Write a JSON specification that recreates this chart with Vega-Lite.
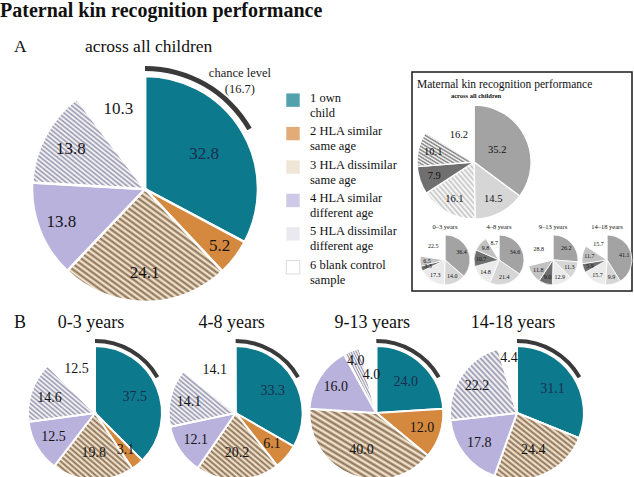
{
  "$schema": "https://vega.github.io/schema/vega-lite/v6.json",
  "padding": {"top": 1, "left": 0, "right": 0, "bottom": 0},
  "background": "#ffffff",
  "config": {"view": {"stroke": null}, "font": "Liberation Serif", "text": {"font": "Liberation Serif"}},
  "datasets": {
    "pat": [
      {"g": "all", "k": 1, "v": 32.8}, {"g": "all", "k": 2, "v": 5.2}, {"g": "all", "k": 3, "v": 24.1}, {"g": "all", "k": 4, "v": 13.8}, {"g": "all", "k": 5, "v": 13.8}, {"g": "all", "k": 6, "v": 10.3},
      {"g": "0-3 years", "k": 1, "v": 37.5}, {"g": "0-3 years", "k": 2, "v": 3.1}, {"g": "0-3 years", "k": 3, "v": 19.8}, {"g": "0-3 years", "k": 4, "v": 12.5}, {"g": "0-3 years", "k": 5, "v": 14.6}, {"g": "0-3 years", "k": 6, "v": 12.5},
      {"g": "4-8 years", "k": 1, "v": 33.3}, {"g": "4-8 years", "k": 2, "v": 6.1}, {"g": "4-8 years", "k": 3, "v": 20.2}, {"g": "4-8 years", "k": 4, "v": 12.1}, {"g": "4-8 years", "k": 5, "v": 14.1}, {"g": "4-8 years", "k": 6, "v": 14.1},
      {"g": "9-13 years", "k": 1, "v": 24.0}, {"g": "9-13 years", "k": 2, "v": 12.0}, {"g": "9-13 years", "k": 3, "v": 40.0}, {"g": "9-13 years", "k": 4, "v": 16.0}, {"g": "9-13 years", "k": 5, "v": 4.0}, {"g": "9-13 years", "k": 6, "v": 4.0},
      {"g": "14-18 years", "k": 1, "v": 31.1}, {"g": "14-18 years", "k": 2, "v": 0}, {"g": "14-18 years", "k": 3, "v": 24.4}, {"g": "14-18 years", "k": 4, "v": 17.8}, {"g": "14-18 years", "k": 5, "v": 22.2}, {"g": "14-18 years", "k": 6, "v": 4.4}
    ],
    "mat": [
      {"g": "all", "k": 1, "v": 35.2}, {"g": "all", "k": 2, "v": 14.5}, {"g": "all", "k": 3, "v": 16.1}, {"g": "all", "k": 4, "v": 7.9}, {"g": "all", "k": 5, "v": 10.1}, {"g": "all", "k": 6, "v": 16.2},
      {"g": "0–3 years", "k": 1, "v": 36.4}, {"g": "0–3 years", "k": 2, "v": 14.0}, {"g": "0–3 years", "k": 3, "v": 17.3}, {"g": "0–3 years", "k": 4, "v": 3.3}, {"g": "0–3 years", "k": 5, "v": 6.5}, {"g": "0–3 years", "k": 6, "v": 22.5},
      {"g": "4–8 years", "k": 1, "v": 34.6}, {"g": "4–8 years", "k": 2, "v": 21.4}, {"g": "4–8 years", "k": 3, "v": 14.8}, {"g": "4–8 years", "k": 4, "v": 10.7}, {"g": "4–8 years", "k": 5, "v": 9.8}, {"g": "4–8 years", "k": 6, "v": 8.7},
      {"g": "9–13 years", "k": 1, "v": 26.2}, {"g": "9–13 years", "k": 2, "v": 11.3}, {"g": "9–13 years", "k": 3, "v": 12.9}, {"g": "9–13 years", "k": 4, "v": 9.0}, {"g": "9–13 years", "k": 5, "v": 11.8}, {"g": "9–13 years", "k": 6, "v": 28.8},
      {"g": "14–18 years", "k": 1, "v": 41.1}, {"g": "14–18 years", "k": 2, "v": 9.9}, {"g": "14–18 years", "k": 3, "v": 15.7}, {"g": "14–18 years", "k": 4, "v": 5.9}, {"g": "14–18 years", "k": 5, "v": 11.7}, {"g": "14–18 years", "k": 6, "v": 15.7}
    ],
    "leg": [
      {"k": 1, "label": "1 own\n\u00a0\u00a0child"},
      {"k": 2, "label": "2 HLA similar\n\u00a0\u00a0\u00a0same age"},
      {"k": 3, "label": "3 HLA dissimilar\n\u00a0\u00a0\u00a0same age"},
      {"k": 4, "label": "4 HLA similar\n\u00a0\u00a0different age"},
      {"k": 5, "label": "5 HLA dissimilar\n\u00a0\u00a0different age"},
      {"k": 6, "label": "6 blank control\n\u00a0\u00a0\u00a0sample"}
    ]
  },
  "spacing": 6,
  "vconcat": [
    {
      "spacing": 0,
      "bounds": "flush",
      "hconcat": [
        {
          "width": 290,
          "height": 234,
          "data": {"name": "pat"},
          "transform": [
            {"filter": "datum.g === 'all'"},
            {"stack": "v", "groupby": ["g"], "sort": [{"field": "k", "order": "ascending"}], "as": ["t0", "t1"]},
            {"calculate": "(datum.t0 + datum.t1) / 2", "as": "tm"}
          ],
          "layer": [
            {
              "mark": {"type": "arc", "outerRadius": 113, "stroke": "#ffffff", "strokeWidth": 2.5},
              "encoding": {
                "theta": {"field": "t0", "type": "quantitative", "stack": null, "scale": {"domain": [0, 100]}},
                "theta2": {"field": "t1"},
                "fill": {
                  "condition": [
                    {"test": "datum.k === 1", "value": "#0c798c"},
                    {"test": "datum.k === 2", "value": "#d4893f"},
                    {"test": "datum.k === 3", "value": {"gradient": "linear", "x1": 0, "y1": 1, "x2": 1, "y2": 0, "stops": [{"offset":0,"color":"#fcf0dc"},{"offset":0.0125,"color":"#8a6e52"},{"offset":0.025,"color":"#fcf0dc"},{"offset":0.0375,"color":"#8a6e52"},{"offset":0.05,"color":"#fcf0dc"},{"offset":0.0625,"color":"#8a6e52"},{"offset":0.075,"color":"#fcf0dc"},{"offset":0.0875,"color":"#8a6e52"},{"offset":0.1,"color":"#fcf0dc"},{"offset":0.1125,"color":"#8a6e52"},{"offset":0.125,"color":"#fcf0dc"},{"offset":0.1375,"color":"#8a6e52"},{"offset":0.15,"color":"#fcf0dc"},{"offset":0.1625,"color":"#8a6e52"},{"offset":0.175,"color":"#fcf0dc"},{"offset":0.1875,"color":"#8a6e52"},{"offset":0.2,"color":"#fcf0dc"},{"offset":0.2125,"color":"#8a6e52"},{"offset":0.225,"color":"#fcf0dc"},{"offset":0.2375,"color":"#8a6e52"},{"offset":0.25,"color":"#fcf0dc"},{"offset":0.2625,"color":"#8a6e52"},{"offset":0.275,"color":"#fcf0dc"},{"offset":0.2875,"color":"#8a6e52"},{"offset":0.3,"color":"#fcf0dc"},{"offset":0.3125,"color":"#8a6e52"},{"offset":0.325,"color":"#fcf0dc"},{"offset":0.3375,"color":"#8a6e52"},{"offset":0.35,"color":"#fcf0dc"},{"offset":0.3625,"color":"#8a6e52"},{"offset":0.375,"color":"#fcf0dc"},{"offset":0.3875,"color":"#8a6e52"},{"offset":0.4,"color":"#fcf0dc"},{"offset":0.4125,"color":"#8a6e52"},{"offset":0.425,"color":"#fcf0dc"},{"offset":0.4375,"color":"#8a6e52"},{"offset":0.45,"color":"#fcf0dc"},{"offset":0.4625,"color":"#8a6e52"},{"offset":0.475,"color":"#fcf0dc"},{"offset":0.4875,"color":"#8a6e52"},{"offset":0.5,"color":"#fcf0dc"},{"offset":0.5125,"color":"#8a6e52"},{"offset":0.525,"color":"#fcf0dc"},{"offset":0.5375,"color":"#8a6e52"},{"offset":0.55,"color":"#fcf0dc"},{"offset":0.5625,"color":"#8a6e52"},{"offset":0.575,"color":"#fcf0dc"},{"offset":0.5875,"color":"#8a6e52"},{"offset":0.6,"color":"#fcf0dc"},{"offset":0.6125,"color":"#8a6e52"},{"offset":0.625,"color":"#fcf0dc"},{"offset":0.6375,"color":"#8a6e52"},{"offset":0.65,"color":"#fcf0dc"},{"offset":0.6625,"color":"#8a6e52"},{"offset":0.675,"color":"#fcf0dc"},{"offset":0.6875,"color":"#8a6e52"},{"offset":0.7,"color":"#fcf0dc"},{"offset":0.7125,"color":"#8a6e52"},{"offset":0.725,"color":"#fcf0dc"},{"offset":0.7375,"color":"#8a6e52"},{"offset":0.75,"color":"#fcf0dc"},{"offset":0.7625,"color":"#8a6e52"},{"offset":0.775,"color":"#fcf0dc"},{"offset":0.7875,"color":"#8a6e52"},{"offset":0.8,"color":"#fcf0dc"},{"offset":0.8125,"color":"#8a6e52"},{"offset":0.825,"color":"#fcf0dc"},{"offset":0.8375,"color":"#8a6e52"},{"offset":0.85,"color":"#fcf0dc"},{"offset":0.8625,"color":"#8a6e52"},{"offset":0.875,"color":"#fcf0dc"},{"offset":0.8875,"color":"#8a6e52"},{"offset":0.9,"color":"#fcf0dc"},{"offset":0.9125,"color":"#8a6e52"},{"offset":0.925,"color":"#fcf0dc"},{"offset":0.9375,"color":"#8a6e52"},{"offset":0.95,"color":"#fcf0dc"},{"offset":0.9625,"color":"#8a6e52"},{"offset":0.975,"color":"#fcf0dc"},{"offset":0.9875,"color":"#8a6e52"},{"offset":1,"color":"#fcf0dc"}]}},
                    {"test": "datum.k === 4", "value": "#b9b2dc"},
                    {"test": "datum.k === 5", "value": {"gradient": "linear", "x1": 0, "y1": 1, "x2": 1, "y2": 0, "stops": [{"offset":0,"color":"#ffffff"},{"offset":0.0125,"color":"#9896ae"},{"offset":0.025,"color":"#ffffff"},{"offset":0.0375,"color":"#9896ae"},{"offset":0.05,"color":"#ffffff"},{"offset":0.0625,"color":"#9896ae"},{"offset":0.075,"color":"#ffffff"},{"offset":0.0875,"color":"#9896ae"},{"offset":0.1,"color":"#ffffff"},{"offset":0.1125,"color":"#9896ae"},{"offset":0.125,"color":"#ffffff"},{"offset":0.1375,"color":"#9896ae"},{"offset":0.15,"color":"#ffffff"},{"offset":0.1625,"color":"#9896ae"},{"offset":0.175,"color":"#ffffff"},{"offset":0.1875,"color":"#9896ae"},{"offset":0.2,"color":"#ffffff"},{"offset":0.2125,"color":"#9896ae"},{"offset":0.225,"color":"#ffffff"},{"offset":0.2375,"color":"#9896ae"},{"offset":0.25,"color":"#ffffff"},{"offset":0.2625,"color":"#9896ae"},{"offset":0.275,"color":"#ffffff"},{"offset":0.2875,"color":"#9896ae"},{"offset":0.3,"color":"#ffffff"},{"offset":0.3125,"color":"#9896ae"},{"offset":0.325,"color":"#ffffff"},{"offset":0.3375,"color":"#9896ae"},{"offset":0.35,"color":"#ffffff"},{"offset":0.3625,"color":"#9896ae"},{"offset":0.375,"color":"#ffffff"},{"offset":0.3875,"color":"#9896ae"},{"offset":0.4,"color":"#ffffff"},{"offset":0.4125,"color":"#9896ae"},{"offset":0.425,"color":"#ffffff"},{"offset":0.4375,"color":"#9896ae"},{"offset":0.45,"color":"#ffffff"},{"offset":0.4625,"color":"#9896ae"},{"offset":0.475,"color":"#ffffff"},{"offset":0.4875,"color":"#9896ae"},{"offset":0.5,"color":"#ffffff"},{"offset":0.5125,"color":"#9896ae"},{"offset":0.525,"color":"#ffffff"},{"offset":0.5375,"color":"#9896ae"},{"offset":0.55,"color":"#ffffff"},{"offset":0.5625,"color":"#9896ae"},{"offset":0.575,"color":"#ffffff"},{"offset":0.5875,"color":"#9896ae"},{"offset":0.6,"color":"#ffffff"},{"offset":0.6125,"color":"#9896ae"},{"offset":0.625,"color":"#ffffff"},{"offset":0.6375,"color":"#9896ae"},{"offset":0.65,"color":"#ffffff"},{"offset":0.6625,"color":"#9896ae"},{"offset":0.675,"color":"#ffffff"},{"offset":0.6875,"color":"#9896ae"},{"offset":0.7,"color":"#ffffff"},{"offset":0.7125,"color":"#9896ae"},{"offset":0.725,"color":"#ffffff"},{"offset":0.7375,"color":"#9896ae"},{"offset":0.75,"color":"#ffffff"},{"offset":0.7625,"color":"#9896ae"},{"offset":0.775,"color":"#ffffff"},{"offset":0.7875,"color":"#9896ae"},{"offset":0.8,"color":"#ffffff"},{"offset":0.8125,"color":"#9896ae"},{"offset":0.825,"color":"#ffffff"},{"offset":0.8375,"color":"#9896ae"},{"offset":0.85,"color":"#ffffff"},{"offset":0.8625,"color":"#9896ae"},{"offset":0.875,"color":"#ffffff"},{"offset":0.8875,"color":"#9896ae"},{"offset":0.9,"color":"#ffffff"},{"offset":0.9125,"color":"#9896ae"},{"offset":0.925,"color":"#ffffff"},{"offset":0.9375,"color":"#9896ae"},{"offset":0.95,"color":"#ffffff"},{"offset":0.9625,"color":"#9896ae"},{"offset":0.975,"color":"#ffffff"},{"offset":0.9875,"color":"#9896ae"},{"offset":1,"color":"#ffffff"}]}}
                  ],
                  "value": "#ffffff"
                }
              }
            },
            {
              "transform": [{"filter": "datum.v > 0"}],
              "mark": {"type": "text", "radius": {"expr": "datum.k === 1 ? 69 : datum.k === 2 ? 94 : datum.k === 4 ? 90 : 84"}, "fontSize": 17, "font": "Liberation Serif"},
              "encoding": {
                "theta": {"field": "tm", "type": "quantitative", "stack": null, "scale": {"domain": [0, 100]}},
                "text": {"field": "v", "type": "quantitative", "format": ".1f"},
                "color": {"condition": {"test": "datum.k === 1", "value": "#1b2e50"}, "value": "#151515"}
              }
            },
            {
              "transform": [{"filter": "datum.k === 1"}],
              "mark": {"type": "arc", "radius": 123, "radius2": 118, "fill": "#3a3a3a"},
              "encoding": {
                "theta": {"datum": 0, "type": "quantitative", "scale": {"domain": [0, 100]}},
                "theta2": {"datum": 16.7}
              }
            },
            {
              "transform": [{"filter": "datum.k === 1"}],
              "mark": {"type": "text", "radius": 121, "fontSize": 12.5, "font": "Liberation Serif", "align": "center", "baseline": "alphabetic", "dx": -10, "dy": -52, "lineHeight": 16, "color": "#222222"},
              "encoding": {
                "theta": {"datum": 16.7, "type": "quantitative", "scale": {"domain": [0, 100]}},
                "text": {"value": ["chance level", "(16.7)"]}
              }
            },
            {
              "transform": [{"filter": "datum.k === 1"}],
              "mark": {"type": "text", "fontSize": 20, "fontWeight": "bold", "font": "Liberation Serif", "align": "left", "baseline": "alphabetic", "dx": -145, "dy": -172, "color": "#111111"},
              "encoding": {"text": {"value": "Paternal kin recognition performance"}}
            },
            {
              "transform": [{"filter": "datum.k === 1"}],
              "mark": {"type": "text", "fontSize": 17.5, "font": "Liberation Serif", "align": "left", "baseline": "alphabetic", "dx": -131, "dy": -137, "color": "#111111"},
              "encoding": {"text": {"value": "A"}}
            },
            {
              "transform": [{"filter": "datum.k === 1"}],
              "mark": {"type": "text", "fontSize": 17.5, "font": "Liberation Serif", "align": "left", "baseline": "alphabetic", "dx": -60, "dy": -137, "color": "#111111"},
              "encoding": {"text": {"value": "across all children"}}
            }
          ]
        },
        {
          "width": 122,
          "height": 234,
          "data": {"name": "leg"},
          "layer": [
            {
              "mark": {"type": "square", "size": 180, "filled": true, "xOffset": -58, "strokeWidth": 1},
              "encoding": {
                "y": {"field": "k", "type": "ordinal", "axis": null, "scale": {"type": "point", "padding": 1.2025, "align": 0.421}},
                "fill": {"condition": [
                  {"test": "datum.k === 1", "value": "#0c798c"},
                  {"test": "datum.k === 2", "value": "#d4893f"},
                  {"test": "datum.k === 3", "value": "#e9dcc7"},
                  {"test": "datum.k === 4", "value": "#b9b2dc"},
                  {"test": "datum.k === 5", "value": "#e2e0ea"}
                ], "value": "#ffffff"},
                "stroke": {"condition": {"test": "datum.k === 6", "value": "#cccccc"}, "value": null}
              }
            },
            {
              "mark": {"type": "text", "align": "left", "baseline": "alphabetic", "dx": -41, "dy": 1.5, "fontSize": 12.5, "font": "Liberation Serif", "lineHeight": 15, "lineBreak": "\n", "color": "#111111"},
              "encoding": {
                "y": {"field": "k", "type": "ordinal", "axis": null, "scale": {"type": "point", "padding": 1.2025, "align": 0.421}},
                "text": {"field": "label"}
              }
            }
          ]
        },
        {
          "width": 220,
          "height": 219,
          "view": {"stroke": "#1a1a1a", "strokeWidth": 1.5},
          "data": {"name": "mat"},
          "transform": [
            {"stack": "v", "groupby": ["g"], "sort": [{"field": "k", "order": "ascending"}], "as": ["t0", "t1"]},
            {"calculate": "(datum.t0 + datum.t1) / 2", "as": "tm"}
          ],
          "resolve": {"scale": {"x": "independent", "y": "independent"}},
          "layer": [
            {
              "transform": [{"filter": "datum.g === 'all'"}],
              "mark": {"type": "arc", "outerRadius": 57, "stroke": "#ffffff", "strokeWidth": 1.3},
              "encoding": {
                "x": {"field": "g", "type": "nominal", "axis": null, "scale": {"type": "point", "align": 0.282}},
                "y": {"field": "g", "type": "nominal", "axis": null, "scale": {"type": "point", "align": 0.411}},
                "theta": {"field": "t0", "type": "quantitative", "stack": null, "scale": {"domain": [0, 100]}},
                "theta2": {"field": "t1"},
                "fill": {"condition": [
                  {"test": "datum.k === 1", "value": "#a3a3a3"},
                  {"test": "datum.k === 2", "value": "#d6d6d6"},
                  {"test": "datum.k === 3", "value": {"gradient": "linear", "x1": 0, "y1": 1, "x2": 1, "y2": 0, "stops": [{"offset":0,"color":"#ffffff"},{"offset":0.025,"color":"#c4c4c4"},{"offset":0.05,"color":"#ffffff"},{"offset":0.075,"color":"#c4c4c4"},{"offset":0.1,"color":"#ffffff"},{"offset":0.125,"color":"#c4c4c4"},{"offset":0.15,"color":"#ffffff"},{"offset":0.175,"color":"#c4c4c4"},{"offset":0.2,"color":"#ffffff"},{"offset":0.225,"color":"#c4c4c4"},{"offset":0.25,"color":"#ffffff"},{"offset":0.275,"color":"#c4c4c4"},{"offset":0.3,"color":"#ffffff"},{"offset":0.325,"color":"#c4c4c4"},{"offset":0.35,"color":"#ffffff"},{"offset":0.375,"color":"#c4c4c4"},{"offset":0.4,"color":"#ffffff"},{"offset":0.425,"color":"#c4c4c4"},{"offset":0.45,"color":"#ffffff"},{"offset":0.475,"color":"#c4c4c4"},{"offset":0.5,"color":"#ffffff"},{"offset":0.525,"color":"#c4c4c4"},{"offset":0.55,"color":"#ffffff"},{"offset":0.575,"color":"#c4c4c4"},{"offset":0.6,"color":"#ffffff"},{"offset":0.625,"color":"#c4c4c4"},{"offset":0.65,"color":"#ffffff"},{"offset":0.675,"color":"#c4c4c4"},{"offset":0.7,"color":"#ffffff"},{"offset":0.725,"color":"#c4c4c4"},{"offset":0.75,"color":"#ffffff"},{"offset":0.775,"color":"#c4c4c4"},{"offset":0.8,"color":"#ffffff"},{"offset":0.825,"color":"#c4c4c4"},{"offset":0.85,"color":"#ffffff"},{"offset":0.875,"color":"#c4c4c4"},{"offset":0.9,"color":"#ffffff"},{"offset":0.925,"color":"#c4c4c4"},{"offset":0.95,"color":"#ffffff"},{"offset":0.975,"color":"#c4c4c4"},{"offset":1,"color":"#ffffff"}]}},
                  {"test": "datum.k === 4", "value": "#6f6f6f"},
                  {"test": "datum.k === 5", "value": {"gradient": "linear", "x1": 0, "y1": 1, "x2": 1, "y2": 0, "stops": [{"offset":0,"color":"#ffffff"},{"offset":0.025,"color":"#7d7d7d"},{"offset":0.05,"color":"#ffffff"},{"offset":0.075,"color":"#7d7d7d"},{"offset":0.1,"color":"#ffffff"},{"offset":0.125,"color":"#7d7d7d"},{"offset":0.15,"color":"#ffffff"},{"offset":0.175,"color":"#7d7d7d"},{"offset":0.2,"color":"#ffffff"},{"offset":0.225,"color":"#7d7d7d"},{"offset":0.25,"color":"#ffffff"},{"offset":0.275,"color":"#7d7d7d"},{"offset":0.3,"color":"#ffffff"},{"offset":0.325,"color":"#7d7d7d"},{"offset":0.35,"color":"#ffffff"},{"offset":0.375,"color":"#7d7d7d"},{"offset":0.4,"color":"#ffffff"},{"offset":0.425,"color":"#7d7d7d"},{"offset":0.45,"color":"#ffffff"},{"offset":0.475,"color":"#7d7d7d"},{"offset":0.5,"color":"#ffffff"},{"offset":0.525,"color":"#7d7d7d"},{"offset":0.55,"color":"#ffffff"},{"offset":0.575,"color":"#7d7d7d"},{"offset":0.6,"color":"#ffffff"},{"offset":0.625,"color":"#7d7d7d"},{"offset":0.65,"color":"#ffffff"},{"offset":0.675,"color":"#7d7d7d"},{"offset":0.7,"color":"#ffffff"},{"offset":0.725,"color":"#7d7d7d"},{"offset":0.75,"color":"#ffffff"},{"offset":0.775,"color":"#7d7d7d"},{"offset":0.8,"color":"#ffffff"},{"offset":0.825,"color":"#7d7d7d"},{"offset":0.85,"color":"#ffffff"},{"offset":0.875,"color":"#7d7d7d"},{"offset":0.9,"color":"#ffffff"},{"offset":0.925,"color":"#7d7d7d"},{"offset":0.95,"color":"#ffffff"},{"offset":0.975,"color":"#7d7d7d"},{"offset":1,"color":"#ffffff"}]}}
                ], "value": "#ffffff"}
              }
            },
            {
              "transform": [{"filter": "datum.g === 'all'"}],
              "mark": {"type": "text", "radius": {"expr": "datum.k === 1 ? 26 : datum.k === 6 ? 31 : 42"}, "fontSize": 10.5, "font": "Liberation Serif", "color": "#111111"},
              "encoding": {
                "x": {"field": "g", "type": "nominal", "axis": null, "scale": {"type": "point", "align": 0.282}},
                "y": {"field": "g", "type": "nominal", "axis": null, "scale": {"type": "point", "align": 0.411}},
                "theta": {"field": "tm", "type": "quantitative", "stack": null, "scale": {"domain": [0, 100]}},
                "text": {"field": "v", "type": "quantitative", "format": ".1f"}
              }
            },
            {
              "transform": [{"filter": "datum.g === 'all' && datum.k === 1"}],
              "mark": {"type": "text", "fontSize": 6.5, "fontWeight": "bold", "font": "Liberation Serif", "dy": -64, "dx": 2, "baseline": "alphabetic", "color": "#111111"},
              "encoding": {
                "x": {"field": "g", "type": "nominal", "axis": null, "scale": {"type": "point", "align": 0.282}},
                "y": {"field": "g", "type": "nominal", "axis": null, "scale": {"type": "point", "align": 0.411}},
                "text": {"value": "across all children"}
              }
            },
            {
              "transform": [{"filter": "datum.g === 'all' && datum.k === 1"}],
              "mark": {"type": "text", "fontSize": 11.5, "font": "Liberation Serif", "align": "left", "baseline": "alphabetic", "dx": -105, "dy": -93.5, "color": "#111111"},
              "encoding": {"text": {"value": "Maternal kin recognition performance"}}
            },
            {
              "transform": [{"filter": "datum.g !== 'all'"}],
              "mark": {"type": "arc", "outerRadius": 25, "stroke": "#ffffff", "strokeWidth": 0.8},
              "encoding": {
                "x": {"field": "g", "type": "nominal", "axis": null, "scale": {"type": "point", "domain": ["0–3 years", "4–8 years", "9–13 years", "14–18 years"], "padding": 0.537, "align": 0.569}},
                "y": {"datum": "small", "type": "nominal", "axis": null, "scale": {"type": "point", "align": 0.858}},
                "theta": {"field": "t0", "type": "quantitative", "stack": null, "scale": {"domain": [0, 100]}},
                "theta2": {"field": "t1"},
                "fill": {"condition": [
                  {"test": "datum.k === 1", "value": "#a3a3a3"},
                  {"test": "datum.k === 2", "value": "#d6d6d6"},
                  {"test": "datum.k === 3", "value": "#ebebeb"},
                  {"test": "datum.k === 4", "value": "#6f6f6f"},
                  {"test": "datum.k === 5", "value": "#c2c2c2"}
                ], "value": "#ffffff"}
              }
            },
            {
              "transform": [{"filter": "datum.g !== 'all'"}],
              "mark": {"type": "text", "radius": 18, "fontSize": 6, "font": "Liberation Serif", "color": "#111111"},
              "encoding": {
                "x": {"field": "g", "type": "nominal", "axis": null, "scale": {"type": "point", "domain": ["0–3 years", "4–8 years", "9–13 years", "14–18 years"], "padding": 0.537, "align": 0.569}},
                "y": {"datum": "small", "type": "nominal", "axis": null, "scale": {"type": "point", "align": 0.858}},
                "theta": {"field": "tm", "type": "quantitative", "stack": null, "scale": {"domain": [0, 100]}},
                "text": {"field": "v", "type": "quantitative", "format": ".1f"}
              }
            },
            {
              "transform": [{"filter": "datum.g !== 'all' && datum.k === 1"}],
              "mark": {"type": "text", "fontSize": 6.5, "font": "Liberation Serif", "dy": -31, "baseline": "alphabetic", "color": "#111111"},
              "encoding": {
                "x": {"field": "g", "type": "nominal", "axis": null, "scale": {"type": "point", "domain": ["0–3 years", "4–8 years", "9–13 years", "14–18 years"], "padding": 0.537, "align": 0.569}},
                "y": {"datum": "small", "type": "nominal", "axis": null, "scale": {"type": "point", "align": 0.858}},
                "text": {"field": "g"}
              }
            }
          ]
        }
      ]
    },
    {
      "width": 634,
      "height": 200,
      "data": {"name": "pat"},
      "transform": [
        {"filter": "datum.g !== 'all'"},
        {"stack": "v", "groupby": ["g"], "sort": [{"field": "k", "order": "ascending"}], "as": ["t0", "t1"]},
        {"calculate": "(datum.t0 + datum.t1) / 2", "as": "tm"}
      ],
      "layer": [
        {
          "mark": {"type": "arc", "outerRadius": 67, "stroke": "#ffffff", "strokeWidth": 2},
          "encoding": {
            "x": {"field": "g", "type": "nominal", "axis": null, "scale": {"type": "point", "domain": ["0-3 years", "4-8 years", "9-13 years", "14-18 years"], "padding": 0.7535, "align": 0.448}},
            "theta": {"field": "t0", "type": "quantitative", "stack": null, "scale": {"domain": [0, 100]}},
            "theta2": {"field": "t1"},
            "fill": {
              "condition": [
                {"test": "datum.k === 1", "value": "#0c798c"},
                {"test": "datum.k === 2", "value": "#d4893f"},
                {"test": "datum.k === 3", "value": {"gradient": "linear", "x1": 0, "y1": 1, "x2": 1, "y2": 0, "stops": [{"offset":0,"color":"#fcf0dc"},{"offset":0.02,"color":"#8a6e52"},{"offset":0.04,"color":"#fcf0dc"},{"offset":0.06,"color":"#8a6e52"},{"offset":0.08,"color":"#fcf0dc"},{"offset":0.1,"color":"#8a6e52"},{"offset":0.12,"color":"#fcf0dc"},{"offset":0.14,"color":"#8a6e52"},{"offset":0.16,"color":"#fcf0dc"},{"offset":0.18,"color":"#8a6e52"},{"offset":0.2,"color":"#fcf0dc"},{"offset":0.22,"color":"#8a6e52"},{"offset":0.24,"color":"#fcf0dc"},{"offset":0.26,"color":"#8a6e52"},{"offset":0.28,"color":"#fcf0dc"},{"offset":0.3,"color":"#8a6e52"},{"offset":0.32,"color":"#fcf0dc"},{"offset":0.34,"color":"#8a6e52"},{"offset":0.36,"color":"#fcf0dc"},{"offset":0.38,"color":"#8a6e52"},{"offset":0.4,"color":"#fcf0dc"},{"offset":0.42,"color":"#8a6e52"},{"offset":0.44,"color":"#fcf0dc"},{"offset":0.46,"color":"#8a6e52"},{"offset":0.48,"color":"#fcf0dc"},{"offset":0.5,"color":"#8a6e52"},{"offset":0.52,"color":"#fcf0dc"},{"offset":0.54,"color":"#8a6e52"},{"offset":0.56,"color":"#fcf0dc"},{"offset":0.58,"color":"#8a6e52"},{"offset":0.6,"color":"#fcf0dc"},{"offset":0.62,"color":"#8a6e52"},{"offset":0.64,"color":"#fcf0dc"},{"offset":0.66,"color":"#8a6e52"},{"offset":0.68,"color":"#fcf0dc"},{"offset":0.7,"color":"#8a6e52"},{"offset":0.72,"color":"#fcf0dc"},{"offset":0.74,"color":"#8a6e52"},{"offset":0.76,"color":"#fcf0dc"},{"offset":0.78,"color":"#8a6e52"},{"offset":0.8,"color":"#fcf0dc"},{"offset":0.82,"color":"#8a6e52"},{"offset":0.84,"color":"#fcf0dc"},{"offset":0.86,"color":"#8a6e52"},{"offset":0.88,"color":"#fcf0dc"},{"offset":0.9,"color":"#8a6e52"},{"offset":0.92,"color":"#fcf0dc"},{"offset":0.94,"color":"#8a6e52"},{"offset":0.96,"color":"#fcf0dc"},{"offset":0.98,"color":"#8a6e52"},{"offset":1,"color":"#fcf0dc"}]}},
                {"test": "datum.k === 4", "value": "#b9b2dc"},
                {"test": "datum.k === 5", "value": {"gradient": "linear", "x1": 0, "y1": 1, "x2": 1, "y2": 0, "stops": [{"offset":0,"color":"#ffffff"},{"offset":0.02,"color":"#9896ae"},{"offset":0.04,"color":"#ffffff"},{"offset":0.06,"color":"#9896ae"},{"offset":0.08,"color":"#ffffff"},{"offset":0.1,"color":"#9896ae"},{"offset":0.12,"color":"#ffffff"},{"offset":0.14,"color":"#9896ae"},{"offset":0.16,"color":"#ffffff"},{"offset":0.18,"color":"#9896ae"},{"offset":0.2,"color":"#ffffff"},{"offset":0.22,"color":"#9896ae"},{"offset":0.24,"color":"#ffffff"},{"offset":0.26,"color":"#9896ae"},{"offset":0.28,"color":"#ffffff"},{"offset":0.3,"color":"#9896ae"},{"offset":0.32,"color":"#ffffff"},{"offset":0.34,"color":"#9896ae"},{"offset":0.36,"color":"#ffffff"},{"offset":0.38,"color":"#9896ae"},{"offset":0.4,"color":"#ffffff"},{"offset":0.42,"color":"#9896ae"},{"offset":0.44,"color":"#ffffff"},{"offset":0.46,"color":"#9896ae"},{"offset":0.48,"color":"#ffffff"},{"offset":0.5,"color":"#9896ae"},{"offset":0.52,"color":"#ffffff"},{"offset":0.54,"color":"#9896ae"},{"offset":0.56,"color":"#ffffff"},{"offset":0.58,"color":"#9896ae"},{"offset":0.6,"color":"#ffffff"},{"offset":0.62,"color":"#9896ae"},{"offset":0.64,"color":"#ffffff"},{"offset":0.66,"color":"#9896ae"},{"offset":0.68,"color":"#ffffff"},{"offset":0.7,"color":"#9896ae"},{"offset":0.72,"color":"#ffffff"},{"offset":0.74,"color":"#9896ae"},{"offset":0.76,"color":"#ffffff"},{"offset":0.78,"color":"#9896ae"},{"offset":0.8,"color":"#ffffff"},{"offset":0.82,"color":"#9896ae"},{"offset":0.84,"color":"#ffffff"},{"offset":0.86,"color":"#9896ae"},{"offset":0.88,"color":"#ffffff"},{"offset":0.9,"color":"#9896ae"},{"offset":0.92,"color":"#ffffff"},{"offset":0.94,"color":"#9896ae"},{"offset":0.96,"color":"#ffffff"},{"offset":0.98,"color":"#9896ae"},{"offset":1,"color":"#ffffff"}]}}
              ],
              "value": "#ffffff"
            }
          }
        },
        {
          "transform": [{"filter": "datum.v > 0"}],
          "mark": {"type": "text", "radius": {"expr": "datum.v < 5 && datum.k >= 5 ? (datum.k === 6 && datum.g === '9-13 years' ? 38 : 56) : datum.k === 1 ? 43 : datum.k === 3 ? 40 : 48"}, "fontSize": 14, "font": "Liberation Serif"},
          "encoding": {
            "x": {"field": "g", "type": "nominal", "axis": null, "scale": {"type": "point", "domain": ["0-3 years", "4-8 years", "9-13 years", "14-18 years"], "padding": 0.7535, "align": 0.448}},
            "theta": {"field": "tm", "type": "quantitative", "stack": null, "scale": {"domain": [0, 100]}},
            "text": {"field": "v", "type": "quantitative", "format": ".1f"},
            "color": {"condition": {"test": "datum.k === 1", "value": "#1b2e50"}, "value": "#151515"}
          }
        },
        {
          "transform": [{"filter": "datum.k === 1"}],
          "mark": {"type": "arc", "radius": 74, "radius2": 70, "fill": "#3a3a3a"},
          "encoding": {
            "x": {"field": "g", "type": "nominal", "axis": null, "scale": {"type": "point", "domain": ["0-3 years", "4-8 years", "9-13 years", "14-18 years"], "padding": 0.7535, "align": 0.448}},
            "theta": {"datum": 0, "type": "quantitative", "scale": {"domain": [0, 100]}},
            "theta2": {"datum": 16.7}
          }
        },
        {
          "transform": [{"filter": "datum.k === 1"}],
          "mark": {"type": "text", "fontSize": 18, "font": "Liberation Serif", "dy": -85, "dx": -4, "baseline": "alphabetic", "color": "#111111"},
          "encoding": {
            "x": {"field": "g", "type": "nominal", "axis": null, "scale": {"type": "point", "domain": ["0-3 years", "4-8 years", "9-13 years", "14-18 years"], "padding": 0.7535, "align": 0.448}},
            "text": {"field": "g"}
          }
        },
        {
          "transform": [{"filter": "datum.g === '0-3 years' && datum.k === 1"}],
          "mark": {"type": "text", "fontSize": 18, "font": "Liberation Serif", "align": "left", "dx": -303, "dy": -85, "baseline": "alphabetic", "color": "#111111"},
          "encoding": {"text": {"value": "B"}}
        }
      ]
    }
  ]
}
